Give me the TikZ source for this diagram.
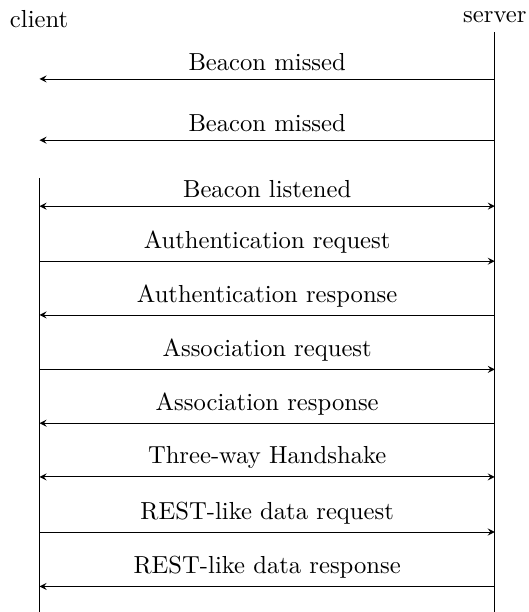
\documentclass[tikz,border=0pt]{standalone}
\begin{document}
\begin{tikzpicture}[>=stealth, font=\fontsize{10.95}{13}\selectfont, msg/.style={midway,above}]
\useasboundingbox (0,0) rectangle (8.25,-9.56);
\node (client) at (0.61,-0.3){client};
\node (server) at (7.73,-0.27){server};
% lifelines
\coordinate (ctop) at (0.617,-2.78);
\coordinate (cbot) at (0.617,-9.56);
\coordinate (stop) at (7.73,-0.5);
\coordinate (sbot) at (7.73,-9.56);
\draw (stop)--(sbot);
\draw (ctop)--(cbot);
% message levels
\foreach \i/\y in {1/1.234,2/2.19,3/3.22,4/4.08,5/4.92,6/5.77,7/6.61,8/7.45,9/8.31,10/9.16}{
  \coordinate (c\i) at (0.617,-\y);
  \coordinate (s\i) at (7.73,-\y);
}
\draw[->] (s1)--(c1)node[msg]{Beacon missed};
\draw[->] (s2)--(c2)node[msg]{Beacon missed};
\draw[<->] (c3)--(s3)node[msg]{Beacon listened};
\draw[->] (c4)--(s4)node[msg]{Authentication request};
\draw[->] (s5)--(c5)node[msg]{Authentication response};
\draw[->] (c6)--(s6)node[msg]{Association request};
\draw[->] (s7)--(c7)node[msg]{Association response};
\draw[<->] (c8)--(s8)node[msg]{Three-way Handshake};
\draw[->] (c9)--(s9)node[msg]{REST-like data request};
\draw[->] (s10)--(c10)node[msg]{REST-like data response};
\end{tikzpicture}
\end{document}
